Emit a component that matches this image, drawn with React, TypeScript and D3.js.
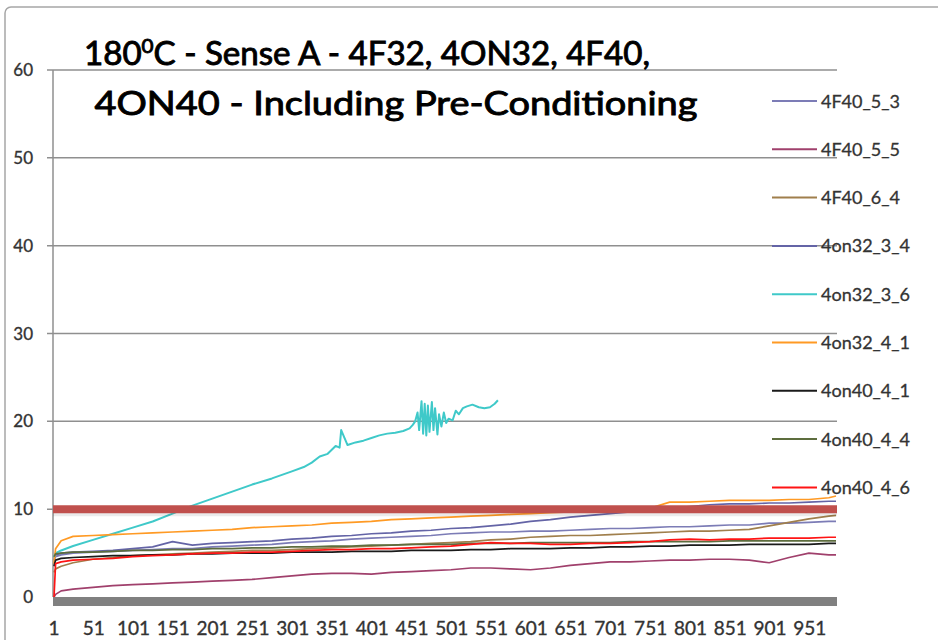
import * as React from 'react';
import * as d3 from 'd3';

const W = 938;
const H = 640;

// sample positions (category index)
const sampleIdx = [
  1, 3, 10, 25, 50, 75, 100, 125, 150, 175,
  200, 225, 250, 275, 300, 325, 350, 375, 400, 425,
  450, 475, 500, 525, 550, 575, 600, 625, 650, 675,
  700, 725, 750, 775, 800, 825, 850, 875, 900, 925,
  950, 975, 984,
];

const f40_5_3 = [
  4.2, 4.6, 4.8, 5.0, 5.1, 5.2, 5.3, 5.4, 5.5, 5.5,
  5.7, 5.8, 5.9, 6.0, 6.2, 6.3, 6.4, 6.6, 6.7, 6.8,
  6.9, 7.0, 7.2, 7.3, 7.4, 7.4, 7.5, 7.5, 7.6, 7.7,
  7.8, 7.8, 7.9, 8.0, 8.0, 8.1, 8.2, 8.2, 8.4, 8.4,
  8.5, 8.6, 8.6,
];
const f40_5_5 = [
  0.0, 0.3, 0.7, 0.9, 1.1, 1.3, 1.4, 1.5, 1.6, 1.7,
  1.8, 1.9, 2.0, 2.2, 2.4, 2.6, 2.7, 2.7, 2.6, 2.8,
  2.9, 3.0, 3.1, 3.3, 3.3, 3.2, 3.1, 3.3, 3.6, 3.8,
  4.0, 4.0, 4.1, 4.2, 4.2, 4.3, 4.3, 4.2, 3.9, 4.5,
  5.0, 4.8, 4.8,
];
const f40_6_4 = [
  2.8, 3.2, 3.5, 3.9, 4.3, 4.5, 4.7, 4.8, 4.9, 5.0,
  5.1, 5.2, 5.3, 5.3, 5.4, 5.5, 5.6, 5.7, 5.8, 5.9,
  6.0, 6.1, 6.2, 6.3, 6.5, 6.6, 6.8, 6.9, 7.0, 7.0,
  7.1, 7.2, 7.3, 7.4, 7.5, 7.5, 7.6, 7.7, 8.1, 8.5,
  8.9, 9.2, 9.3,
];
const on32_3_4 = [
  4.5, 4.8, 5.0, 5.1, 5.2, 5.3, 5.5, 5.7, 6.3, 5.9,
  6.1, 6.2, 6.3, 6.4, 6.6, 6.7, 6.9, 7.0, 7.2, 7.3,
  7.5, 7.6, 7.8, 7.9, 8.1, 8.3, 8.6, 8.8, 9.1, 9.3,
  9.5, 9.7, 9.9, 10.1, 10.3, 10.5, 10.6, 10.6, 10.7, 10.7,
  10.8, 10.9, 10.9,
];
const on32_4_1 = [
  3.8, 5.5, 6.4, 6.9, 7.0, 7.1, 7.2, 7.3, 7.4, 7.5,
  7.6, 7.7, 7.9, 8.0, 8.1, 8.2, 8.4, 8.5, 8.6, 8.8,
  8.9, 9.0, 9.1, 9.2, 9.3, 9.4, 9.5, 9.6, 9.7, 9.8,
  9.9, 10.0, 10.1, 10.8, 10.8, 10.9, 11.0, 11.0, 11.0, 11.1,
  11.1, 11.3, 11.5,
];
const on40_4_1 = [
  3.5, 4.2, 4.4, 4.5, 4.6, 4.7, 4.7, 4.8, 4.8, 4.9,
  4.9, 5.0, 5.0, 5.0, 5.1, 5.1, 5.1, 5.2, 5.2, 5.2,
  5.3, 5.3, 5.3, 5.4, 5.4, 5.5, 5.5, 5.5, 5.6, 5.6,
  5.7, 5.7, 5.8, 5.8, 5.9, 5.9, 5.9, 6.0, 6.0, 6.0,
  6.0, 6.1, 6.1,
];
const on40_4_4 = [
  4.6, 4.9, 5.0, 5.1, 5.1, 5.2, 5.3, 5.3, 5.4, 5.4,
  5.5, 5.5, 5.6, 5.6, 5.7, 5.7, 5.8, 5.8, 5.9, 5.9,
  6.0, 6.0, 6.0, 6.1, 6.1, 6.1, 6.2, 6.2, 6.2, 6.2,
  6.2, 6.3, 6.3, 6.3, 6.3, 6.3, 6.4, 6.4, 6.4, 6.4,
  6.4, 6.4, 6.4,
];
const on40_4_6 = [
  0.0, 3.8, 4.0, 4.2, 4.3, 4.4, 4.6, 4.7, 4.8, 4.9,
  5.0, 5.0, 5.1, 5.1, 5.2, 5.3, 5.4, 5.4, 5.5, 5.5,
  5.6, 5.7, 5.8, 6.0, 6.2, 6.1, 6.1, 6.0, 6.0, 6.1,
  6.1, 6.2, 6.3, 6.5, 6.6, 6.5, 6.6, 6.6, 6.7, 6.7,
  6.7, 6.8, 6.8,
];

// 4on32_3_6 stops early and is much noisier
const cyanIdx = [
  1, 3, 10, 25, 50, 75, 100, 125, 150, 175,
  200, 225, 250, 275, 300, 315, 325, 335, 345, 355,
  360, 362, 370, 380, 390, 400, 410, 420, 430, 440,
  448, 452, 455, 458, 460, 463, 465, 467, 469, 471,
  473, 476, 478, 480, 483, 485, 488, 491, 494, 497,
  502, 506, 510, 515, 520, 527, 535, 542, 549, 555,
  559,
];
const on32_3_6 = [
  4.5, 5.0, 5.3, 5.8, 6.5, 7.2, 7.9, 8.6, 9.5, 10.4,
  11.2, 12.0, 12.8, 13.5, 14.3, 14.8, 15.3, 16.0, 16.3, 17.2,
  17.0, 19.0, 17.3, 17.6, 17.8, 18.1, 18.4, 18.6, 18.7, 18.9,
  19.2, 19.6, 20.0, 21.0, 19.0, 22.3, 18.6, 22.0, 18.4, 21.8,
  18.8, 22.2, 19.0, 21.5, 18.5, 20.8, 19.4, 21.0, 19.8, 20.3,
  20.1, 21.2, 20.8, 21.5, 21.7, 21.9, 21.6, 21.5, 21.6, 22.0,
  22.4,
];

const seriesNames = [
  '4F40_5_3', '4F40_5_5', '4F40_6_4', '4on32_3_4', '4on32_3_6',
  '4on32_4_1', '4on40_4_1', '4on40_4_4', '4on40_4_6',
];
const seriesColors = [
  '#7c7cb6', '#a0406c', '#a07f4c', '#6464a6', '#3fc9c9',
  '#ff9a24', '#1a1a1a', '#5d6d3e', '#ff1414',
];
const seriesValues = [
  f40_5_3, f40_5_5, f40_6_4, on32_3_4, on32_3_6,
  on32_4_1, on40_4_1, on40_4_4, on40_4_6,
];
const seriesIdx = [
  sampleIdx, sampleIdx, sampleIdx, sampleIdx, cyanIdx,
  sampleIdx, sampleIdx, sampleIdx, sampleIdx,
];

const yTicks = [0, 10, 20, 30, 40, 50, 60];
const xTickLabels = [1, 51, 101, 151, 201, 251, 301, 351, 401, 451, 501, 551, 601, 651, 701, 751, 801, 851, 901, 951];
const limitValue = 10;
const lastCategory = 984;

const FONT = 'Lato, "Open Sans", sans-serif';

export default function App() {
  const left = 53;
  const right = 837;
  const x = d3.scaleLinear().domain([1, lastCategory]).range([left + 1, right - 1]);
  const y = d3.scaleLinear().domain([0, 60]).range([597, 70]);

  const line = d3
    .line<[number, number]>()
    .x((d) => x(d[0]))
    .y((d) => y(d[1]));

  return (
    <div style={{ position: 'absolute', left: 0, top: 0, width: W, height: H, background: '#fff' }}>
      <svg width={W} height={H} style={{ display: 'block', fontFamily: FONT }}>
        <rect x={0} y={0} width={W} height={H} fill="#fff" />
        {/* outer chart border */}
        <rect x={5} y={7} width={1000} height={700} rx={6} fill="#fff" stroke="#a6a6a6" strokeWidth={1.5} />

        {/* gridlines + y axis */}
        {yTicks.filter((t) => t > 0).map((t) => (
          <line key={'g' + t} x1={left - 6} x2={right} y1={y(t)} y2={y(t)} stroke="#8f8f8f" strokeWidth={1.5} />
        ))}
        <line x1={left} x2={left} y1={y(60)} y2={y(0)} stroke="#8f8f8f" strokeWidth={1.5} />
        {yTicks.map((t) => (
          <text key={'yl' + t} x={33} y={y(t) + 6} textAnchor="end" fontSize={17} fill="#333" stroke="#333" strokeWidth={0.35}>
            {t}
          </text>
        ))}

        {/* series */}
        {seriesValues.map((vals, i) => {
          const idx = seriesIdx[i];
          const n = Math.min(idx.length, vals.length);
          const pts: [number, number][] = [];
          for (let k = 0; k < n; k++) pts.push([idx[k], vals[k]]);
          return (
            <path key={seriesNames[i]} d={line(pts) || ''} fill="none" stroke={seriesColors[i]} strokeWidth={i === 4 ? 2 : 1.7} strokeLinejoin="round" />
          );
        })}

        {/* limit band */}
        <line x1={left} x2={right} y1={y(limitValue) + 3} y2={y(limitValue) + 3} stroke="#000" strokeOpacity={0.08} strokeWidth={8} />
        <line x1={left} x2={right} y1={y(limitValue)} y2={y(limitValue)} stroke="#c0504d" strokeWidth={8} />

        {/* category axis bar */}
        <rect x={left} y={y(0)} width={right - left} height={9} fill="#808080" />
        {xTickLabels.map((t) => (
          <text key={'xl' + t} x={x(t)} y={635} textAnchor="middle" fontSize={19} fill="#333" stroke="#333" strokeWidth={0.35}>
            {t}
          </text>
        ))}

        {/* title */}
        <g fill="#000" stroke="#000" strokeWidth={0.9}>
          <text x={367} y={65} textAnchor="middle" fontSize={32} textLength={566} lengthAdjust="spacingAndGlyphs">
            180<tspan fontSize={20} dy={-12}>0</tspan>
            <tspan dy={12}>C - Sense A - 4F32, 4ON32, 4F40,</tspan>
          </text>
          <text x={396} y={115} textAnchor="middle" fontSize={32} textLength={603} lengthAdjust="spacingAndGlyphs">
            4ON40 - Including Pre-Conditioning
          </text>
        </g>

        {/* legend */}
        {seriesNames.map((name, i) => {
          const cy = 101 + i * 48.3;
          return (
            <g key={'lg' + name}>
              <line x1={772} x2={817} y1={cy} y2={cy} stroke={seriesColors[i]} strokeWidth={2} />
              <text x={821} y={cy + 6.5} fontSize={18} fill="#333" stroke="#333" strokeWidth={0.3}>
                {name}
              </text>
            </g>
          );
        })}
      </svg>
    </div>
  );
}
